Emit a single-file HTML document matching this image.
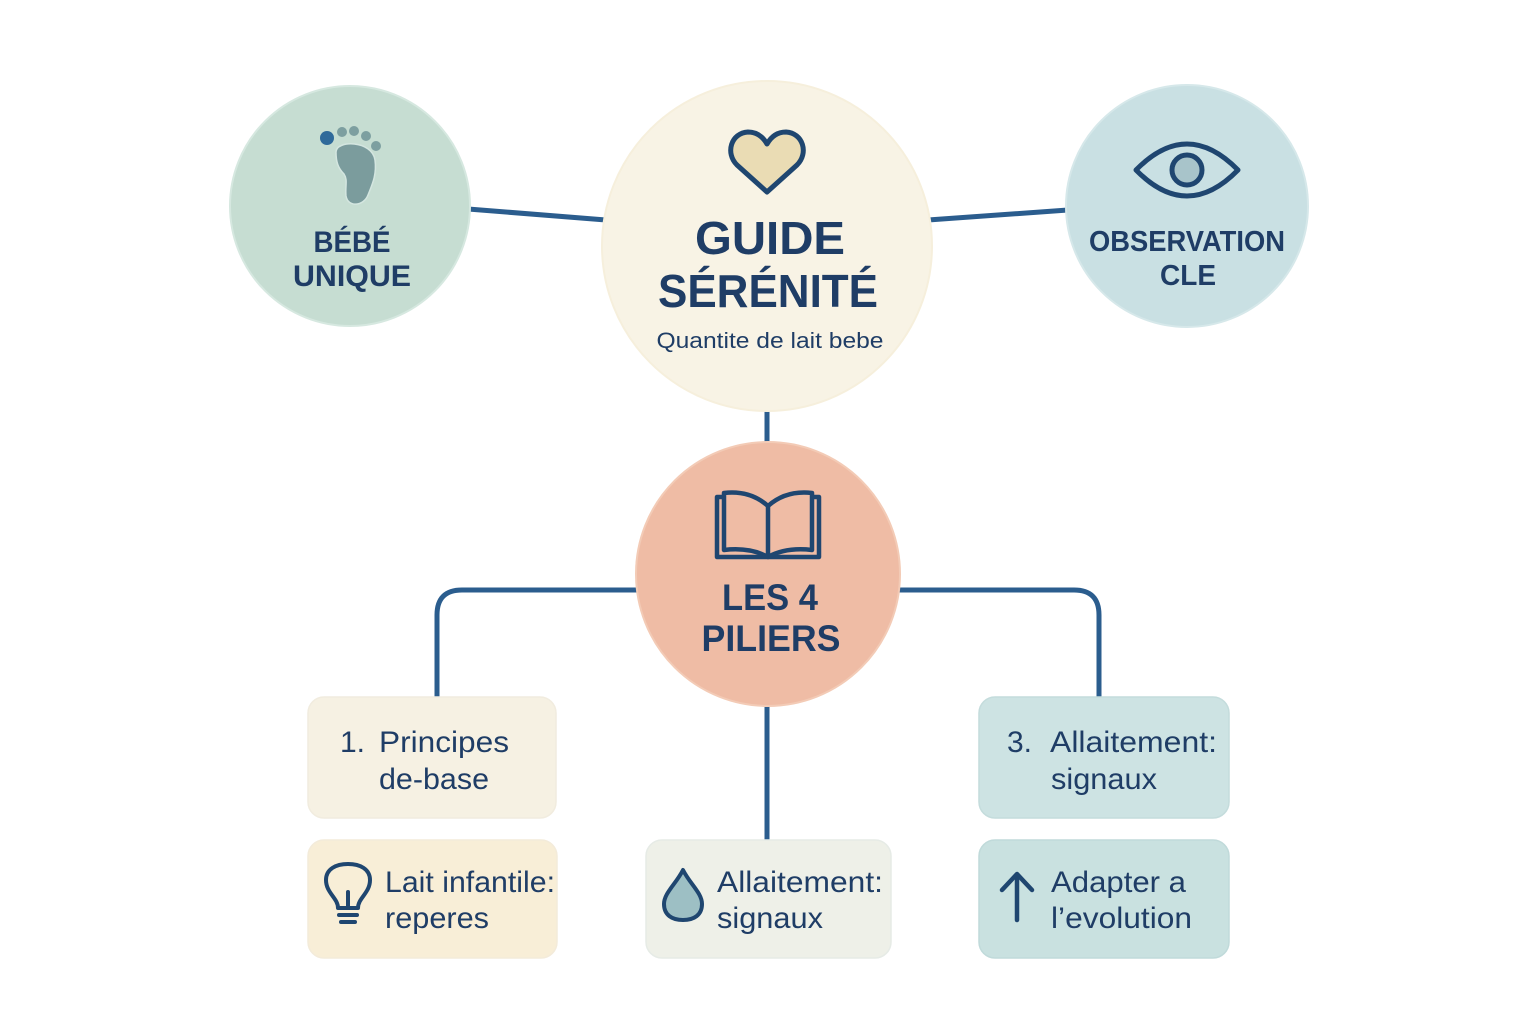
<!DOCTYPE html>
<html><head><meta charset="utf-8"><style>
html,body{margin:0;padding:0;background:#fff;}
svg{display:block;}
text{font-family:"Liberation Sans",sans-serif;fill:#1f3d66;}
.b{font-weight:bold;}
</style></head><body>
<svg width="1536" height="1024" viewBox="0 0 1536 1024" xmlns="http://www.w3.org/2000/svg">
<!-- connectors -->
<g stroke="#2b5d8e" stroke-width="5" fill="none" stroke-linecap="butt">
<line x1="468" y1="209" x2="606" y2="220"/>
<line x1="928" y1="220" x2="1068" y2="210"/>
<line x1="767" y1="405" x2="767" y2="450"/>
<line x1="767" y1="700" x2="767" y2="840"/>
<path d="M640 590 H462 Q437 590 437 615 V697"/>
<path d="M896 590 H1074 Q1099 590 1099 615 V697"/>
</g>
<!-- circles -->
<circle cx="350" cy="206" r="120" fill="#c6ddd2" stroke="#d6e8e0" stroke-width="2"/>
<circle cx="767" cy="246" r="165" fill="#f8f3e5" stroke="#f6efdc" stroke-width="2"/>
<circle cx="1187" cy="206" r="121" fill="#c9e0e3" stroke="#d6e8ea" stroke-width="2"/>
<circle cx="768" cy="574" r="132" fill="#efbca5" stroke="#f3cbb6" stroke-width="2"/>
<!-- boxes -->
<rect x="308" y="697" width="248" height="121" rx="16" fill="#f6f1e3" stroke="#f1ecdf" stroke-width="1.5"/>
<rect x="308" y="840" width="249" height="118" rx="16" fill="#f8eed7" stroke="#f3ebda" stroke-width="1.5"/>
<rect x="646" y="840" width="245" height="118" rx="16" fill="#eef0e8" stroke="#e6ebe6" stroke-width="1.5"/>
<rect x="979" y="697" width="250" height="121" rx="16" fill="#cde3e3" stroke="#c4dcdc" stroke-width="1.5"/>
<rect x="979" y="840" width="250" height="118" rx="16" fill="#c9e1e0" stroke="#c0dada" stroke-width="1.5"/>

<!-- foot icon -->
<circle cx="327" cy="138" r="7" fill="#2f6a9a"/>
<circle cx="342" cy="132" r="5" fill="#7d9fa0"/>
<circle cx="354" cy="131" r="5" fill="#7d9fa0"/>
<circle cx="366" cy="136" r="5" fill="#7d9fa0"/>
<circle cx="376" cy="146" r="5" fill="#7d9fa0"/>
<path d="M336 152 C336 140 372 140 375 160 C377 175 372 185 368 195 C364 206 348 208 346 196 C345 186 348 180 344 174 C338 168 336 162 336 152 Z" fill="#7b9c9d" stroke="#d4e6e0" stroke-width="1.5"/>

<!-- heart -->
<path d="M767 192 L737 165 C725 153 731 133 748 132 C757 132 763 137 767 144 C771 137 777 132 786 132 C803 133 809 153 797 165 Z" fill="#eadcb4" stroke="#1f4670" stroke-width="5" stroke-linejoin="round"/>

<!-- eye -->
<path d="M1136 170 Q1187 118 1238 170 Q1187 222 1136 170 Z" fill="none" stroke="#1f4670" stroke-width="5" stroke-linejoin="round"/>
<circle cx="1187" cy="170" r="15" fill="#a8c4ca" stroke="#1f4670" stroke-width="5"/>

<!-- book -->
<g fill="none" stroke="#1f4670" stroke-width="4.5" stroke-linejoin="round">
<path d="M724 497 H717 V557 H819 V497 H812"/>
<path d="M724 493 Q750 490 768 506 Q786 490 812 493 V550 Q786 547 768 557 Q750 547 724 550 Z" fill="#efbca5"/>
<line x1="768" y1="506" x2="768" y2="556"/>
</g>

<!-- bulb -->
<g fill="none" stroke="#1f4670" stroke-width="4" stroke-linecap="round" stroke-linejoin="round">
<path d="M338 908 C338 898 326 893 326 880 C326 869 336 864 348 864 C360 864 370 869 370 880 C370 893 358 898 358 908 Z"/>
<line x1="348" y1="908" x2="348" y2="892"/>
<line x1="339" y1="915" x2="357" y2="915"/>
<line x1="341" y1="922" x2="355" y2="922"/>
</g>

<!-- drop -->
<path d="M683 870 C690 884 702 893 702 904 C702 915 694 920 683 920 C672 920 664 915 664 904 C664 893 676 884 683 870 Z" fill="#9dbfc4" stroke="#1f4670" stroke-width="4" stroke-linejoin="round"/>

<!-- arrow -->
<g fill="none" stroke="#1f4670" stroke-width="4.5" stroke-linecap="round" stroke-linejoin="round">
<line x1="1017" y1="920" x2="1017" y2="875"/>
<path d="M1002 890 L1017 874 L1032 890"/>
</g>

<!-- circle texts -->
<text class="b" x="352" y="252" font-size="30" text-anchor="middle" textLength="77" lengthAdjust="spacingAndGlyphs">BÉBÉ</text>
<text class="b" x="352" y="286" font-size="30" text-anchor="middle" textLength="118" lengthAdjust="spacingAndGlyphs">UNIQUE</text>

<text class="b" x="770" y="254" font-size="46" text-anchor="middle" textLength="150" lengthAdjust="spacingAndGlyphs">GUIDE</text>
<text class="b" x="768" y="307" font-size="46" text-anchor="middle" textLength="220" lengthAdjust="spacingAndGlyphs">SÉRÉNITÉ</text>
<text x="770" y="348" font-size="22" text-anchor="middle" textLength="227" lengthAdjust="spacingAndGlyphs">Quantite de lait bebe</text>

<text class="b" x="1187" y="251" font-size="29" text-anchor="middle" textLength="196" lengthAdjust="spacingAndGlyphs">OBSERVATION</text>
<text class="b" x="1188" y="285" font-size="29" text-anchor="middle" textLength="56" lengthAdjust="spacingAndGlyphs">CLE</text>

<text class="b" x="770" y="610" font-size="37" text-anchor="middle" textLength="96" lengthAdjust="spacingAndGlyphs">LES 4</text>
<text class="b" x="771" y="651" font-size="37" text-anchor="middle" textLength="139" lengthAdjust="spacingAndGlyphs">PILIERS</text>

<!-- box texts -->
<text x="340" y="752" font-size="30">1.</text>
<text x="379" y="752" font-size="30" textLength="130" lengthAdjust="spacingAndGlyphs">Principes</text>
<text x="379" y="789" font-size="30" textLength="110" lengthAdjust="spacingAndGlyphs">de-base</text>

<text x="385" y="892" font-size="30" textLength="170" lengthAdjust="spacingAndGlyphs">Lait infantile:</text>
<text x="385" y="928" font-size="30" textLength="104" lengthAdjust="spacingAndGlyphs">reperes</text>

<text x="717" y="892" font-size="30" textLength="166" lengthAdjust="spacingAndGlyphs">Allaitement:</text>
<text x="717" y="928" font-size="30" textLength="106" lengthAdjust="spacingAndGlyphs">signaux</text>

<text x="1007" y="752" font-size="30">3.</text>
<text x="1050" y="752" font-size="30" textLength="167" lengthAdjust="spacingAndGlyphs">Allaitement:</text>
<text x="1051" y="789" font-size="30" textLength="106" lengthAdjust="spacingAndGlyphs">signaux</text>

<text x="1051" y="892" font-size="30" textLength="135" lengthAdjust="spacingAndGlyphs">Adapter a</text>
<text x="1051" y="928" font-size="30" textLength="141" lengthAdjust="spacingAndGlyphs">l’evolution</text>
</svg>
</body></html>
